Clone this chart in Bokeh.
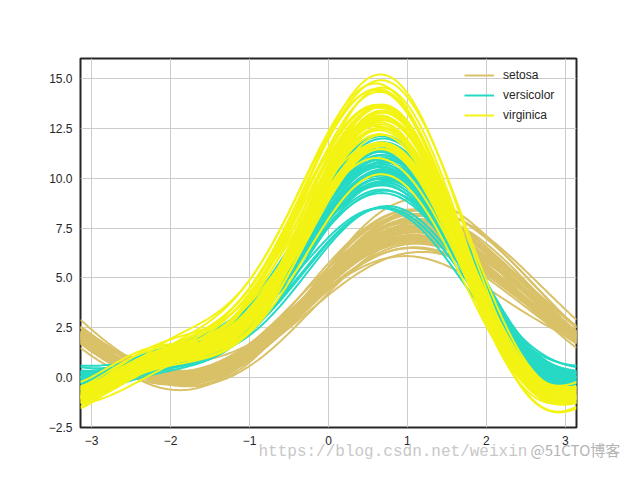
import numpy as np
from bokeh.plotting import figure
from bokeh.models import Range1d, FixedTicker, Legend, LegendItem, Label
from bokeh.embed import file_html
from bokeh.resources import INLINE

# Iris dataset (seaborn)
sepal_length = [
    5.1,4.9,4.7,4.6,5.0,5.4,4.6,5.0,4.4,4.9,5.4,4.8,4.8,4.3,5.8,5.7,5.4,5.1,5.7,5.1,
    5.4,5.1,4.6,5.1,4.8,5.0,5.0,5.2,5.2,4.7,4.8,5.4,5.2,5.5,4.9,5.0,5.5,4.9,4.4,5.1,
    5.0,4.5,4.4,5.0,5.1,4.8,5.1,4.6,5.3,5.0,
    7.0,6.4,6.9,5.5,6.5,5.7,6.3,4.9,6.6,5.2,5.0,5.9,6.0,6.1,5.6,6.7,5.6,5.8,6.2,5.6,
    5.9,6.1,6.3,6.1,6.4,6.6,6.8,6.7,6.0,5.7,5.5,5.5,5.8,6.0,5.4,6.0,6.7,6.3,5.6,5.5,
    5.5,6.1,5.8,5.0,5.6,5.7,5.7,6.2,5.1,5.7,
    6.3,5.8,7.1,6.3,6.5,7.6,4.9,7.3,6.7,7.2,6.5,6.4,6.8,5.7,5.8,6.4,6.5,7.7,7.7,6.0,
    6.9,5.6,7.7,6.3,6.7,7.2,6.2,6.1,6.4,7.2,7.4,7.9,6.4,6.3,6.1,7.7,6.3,6.4,6.0,6.9,
    6.7,6.9,5.8,6.8,6.7,6.7,6.3,6.5,6.2,5.9]
sepal_width = [
    3.5,3.0,3.2,3.1,3.6,3.9,3.4,3.4,2.9,3.1,3.7,3.4,3.0,3.0,4.0,4.4,3.9,3.5,3.8,3.8,
    3.4,3.7,3.6,3.3,3.4,3.0,3.4,3.5,3.4,3.2,3.1,3.4,4.1,4.2,3.1,3.2,3.5,3.6,3.0,3.4,
    3.5,2.3,3.2,3.5,3.8,3.0,3.8,3.2,3.7,3.3,
    3.2,3.2,3.1,2.3,2.8,2.8,3.3,2.4,2.9,2.7,2.0,3.0,2.2,2.9,2.9,3.1,3.0,2.7,2.2,2.5,
    3.2,2.8,2.5,2.8,2.9,3.0,2.8,3.0,2.9,2.6,2.4,2.4,2.7,2.7,3.0,3.4,3.1,2.3,3.0,2.5,
    2.6,3.0,2.6,2.3,2.7,3.0,2.9,2.9,2.5,2.8,
    3.3,2.7,3.0,2.9,3.0,3.0,2.5,2.9,2.5,3.6,3.2,2.7,3.0,2.5,2.8,3.2,3.0,3.8,2.6,2.2,
    3.2,2.8,2.8,2.7,3.3,3.2,2.8,3.0,2.8,3.0,2.8,3.8,2.8,2.8,2.6,3.0,3.4,3.1,3.0,3.1,
    3.1,3.1,2.7,3.2,3.3,3.0,2.5,3.0,3.4,3.0]
petal_length = [
    1.4,1.4,1.3,1.5,1.4,1.7,1.4,1.5,1.4,1.5,1.5,1.6,1.4,1.1,1.2,1.5,1.3,1.4,1.7,1.5,
    1.7,1.5,1.0,1.7,1.9,1.6,1.6,1.5,1.4,1.6,1.6,1.5,1.5,1.4,1.5,1.2,1.3,1.4,1.3,1.5,
    1.3,1.3,1.3,1.6,1.9,1.4,1.6,1.4,1.5,1.4,
    4.7,4.5,4.9,4.0,4.6,4.5,4.7,3.3,4.6,3.9,3.5,4.2,4.0,4.7,3.6,4.4,4.5,4.1,4.5,3.9,
    4.8,4.0,4.9,4.7,4.3,4.4,4.8,5.0,4.5,3.5,3.8,3.7,3.9,5.1,4.5,4.5,4.7,4.4,4.1,4.0,
    4.4,4.6,4.0,3.3,4.2,4.2,4.2,4.3,3.0,4.1,
    6.0,5.1,5.9,5.6,5.8,6.6,4.5,6.3,5.8,6.1,5.1,5.3,5.5,5.0,5.1,5.3,5.5,6.7,6.9,5.0,
    5.7,4.9,6.7,4.9,5.7,6.0,4.8,4.9,5.6,5.8,6.1,6.4,5.6,5.1,5.6,6.1,5.6,5.5,4.8,5.4,
    5.6,5.1,5.1,5.9,5.7,5.2,5.0,5.2,5.4,5.1]
petal_width = [
    0.2,0.2,0.2,0.2,0.2,0.4,0.3,0.2,0.2,0.1,0.2,0.2,0.1,0.1,0.2,0.4,0.4,0.3,0.3,0.3,
    0.2,0.4,0.2,0.5,0.2,0.2,0.4,0.2,0.2,0.2,0.2,0.4,0.1,0.2,0.2,0.2,0.2,0.1,0.2,0.2,
    0.3,0.3,0.2,0.6,0.4,0.3,0.2,0.2,0.2,0.2,
    1.4,1.5,1.5,1.3,1.5,1.3,1.6,1.0,1.3,1.4,1.0,1.5,1.0,1.4,1.3,1.4,1.5,1.0,1.5,1.1,
    1.8,1.3,1.5,1.2,1.3,1.4,1.4,1.7,1.5,1.0,1.1,1.0,1.2,1.6,1.5,1.6,1.5,1.3,1.3,1.3,
    1.2,1.4,1.2,1.0,1.3,1.2,1.3,1.3,1.1,1.3,
    2.5,1.9,2.1,1.8,2.2,2.1,1.7,1.8,1.8,2.5,2.0,1.9,2.1,2.0,2.4,2.3,1.8,2.2,2.3,1.5,
    2.3,2.0,2.0,1.8,2.1,1.8,1.8,1.8,2.1,1.6,1.9,2.0,2.2,1.5,1.4,2.3,2.4,1.8,1.8,2.1,
    2.4,2.3,1.9,2.3,2.5,2.3,1.9,2.0,2.3,1.8]
species = ["setosa"] * 50 + ["versicolor"] * 50 + ["virginica"] * 50
class_names = ["setosa", "versicolor", "virginica"]
class_colors = ["#d9c168", "#26d9c5", "#f3f314"]

x_ticks = [-3, -2, -1, 0, 1, 2, 3]
y_ticks = [-2.5, 0.0, 2.5, 5.0, 7.5, 10.0, 12.5, 15.0]

# Andrews curves (pandas-style)
t = np.linspace(-np.pi, np.pi, 200)
def andrews(row):
    x1, x2, x3, x4 = row
    return x1 / np.sqrt(2.0) + x2 * np.sin(t) + x3 * np.cos(t) + x4 * np.sin(2 * t)

p = figure(width=624, height=464, output_backend="svg", toolbar_location=None,
           x_range=Range1d(-np.pi, np.pi), y_range=Range1d(-2.5, 16.0),
           min_border_left=80, min_border_right=48, min_border_top=58, min_border_bottom=37)
p.background_fill_color = "white"
p.border_fill_color = "white"
p.outline_line_color = "#262626"
p.outline_line_width = 2

for ax in (p.xaxis, p.yaxis):
    ax.axis_line_color = None
    ax.major_tick_line_color = None
    ax.minor_tick_line_color = None
    ax.major_tick_out = 0
    ax.major_tick_in = 0
    ax.major_label_text_font = "Liberation Sans"
    ax.major_label_text_font_size = "12px"
    ax.major_label_text_color = "#262626"
    ax.major_label_standoff = 8

p.xaxis.ticker = FixedTicker(ticks=x_ticks)
p.yaxis.ticker = FixedTicker(ticks=y_ticks)
p.xaxis.major_label_overrides = {v: (str(v) if v >= 0 else "\u2212" + str(-v)) for v in x_ticks}
p.yaxis.major_label_overrides = {v: ("%.1f" % v if v >= 0 else "\u2212%.1f" % -v) for v in y_ticks}

p.xgrid.ticker = FixedTicker(ticks=x_ticks)
p.ygrid.ticker = FixedTicker(ticks=y_ticks)
p.grid.grid_line_color = "#cccccc"
p.grid.grid_line_width = 1

rows = list(zip(sepal_length, sepal_width, petal_length, petal_width))
items = []
for name, color in zip(class_names, class_colors):
    xs, ys = [], []
    for r, s in zip(rows, species):
        if s == name:
            xs.append(t)
            ys.append(andrews(r))
    rend = p.multi_line(xs=xs, ys=ys, line_color=color, line_width=2)
    items.append(LegendItem(label=name, renderers=[rend]))

legend = Legend(items=items, location=(384, 302), margin=0, padding=0, spacing=0,
                glyph_width=30, glyph_height=20, label_height=20, label_standoff=9,
                label_text_font="Liberation Sans", label_text_font_size="12px",
                label_text_color="#262626",
                background_fill_alpha=0, border_line_alpha=0)
p.add_layout(legend, "center")

wm1 = Label(x=178, y=-393, x_units="screen", y_units="screen",
            text="https://blog.csdn.net/weixin", text_baseline="middle",
            text_font="Liberation Mono", text_font_size="16px", text_color="#c8c8c8")
wm2 = Label(x=450, y=-409, x_units="screen", y_units="screen", text="@51CTO博客",
            text_baseline="middle",
            text_font="Noto Sans CJK SC", text_font_size="15px", text_color="#b4b4b4")
p.add_layout(wm1, "above")
p.add_layout(wm2, "above")

open("out.html", "w").write(file_html(p, INLINE))
